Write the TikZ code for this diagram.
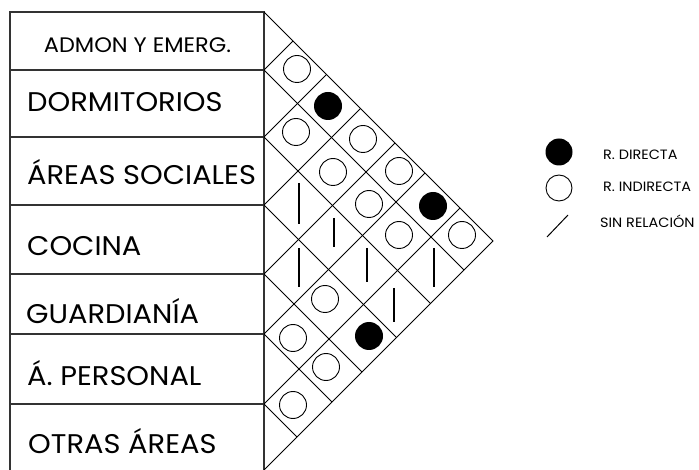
\documentclass[tikz,border=0pt]{standalone}
\usepackage{fontspec}
\setmainfont{Poppins}[FakeStretch=1.07]
\begin{document}
\begin{tikzpicture}[x=1pt,y=-1pt,
  tbl/.style={draw=black!80, line width=1.4pt},
  gridline/.style={draw=black, line width=0.9pt},
  opencirc/.style={circle, draw=black, line width=0.9pt, minimum size=27pt, inner sep=0pt},
  fullcirc/.style={circle, fill=black, minimum size=28pt, inner sep=0pt},
  norel/.style={draw=black, line width=1.2pt},
  lbl/.style={font=\fontsize{27}{30}\selectfont, anchor=base west, inner sep=0pt},
  leg/.style={font=\fontsize{13.5}{16}\selectfont, anchor=base west, inner sep=0pt}]
\useasboundingbox (0,0) rectangle (699,470);
\clip (0,0) rectangle (699,470);
% table
\draw[tbl] (10,12) rectangle (264,490);
\foreach \yy in {70,137,205,274,334,404} \draw[tbl] (10,\yy) -- (264,\yy);
% matrix outline
\coordinate (top) at (264,12);
\coordinate (tip) at (493,241);
\coordinate (bot) at (264,470);
\draw[gridline] (top) -- (tip) -- (bot);
\foreach \yy in {70,137,205,274,334,404} {
  \pgfmathsetmacro{\ax}{264+(470-\yy)/2}
  \pgfmathsetmacro{\ay}{(470+\yy)/2}
  \pgfmathsetmacro{\bx}{264+(\yy-12)/2}
  \pgfmathsetmacro{\by}{(\yy+12)/2}
  \draw[gridline] (\ax,\ay) -- (264,\yy) -- (\bx,\by);
}
% labels
\node[lbl, font=\fontsize{21}{24}\selectfont, anchor=base] (l1) at (137.5,53) {ADMON Y EMERG.};
\node[lbl] (l2) at (27,112) {DORMITORIOS};
\node[lbl] (l3) at (27,185) {ÁREAS SOCIALES};
\node[lbl] (l4) at (27,256) {COCINA};
\node[lbl] (l5) at (26,324) {GUARDIANÍA};
\node[lbl] (l6) at (27,385) {Á. PERSONAL};
\node[lbl] (l7) at (28,453) {OTRAS ÁREAS};
% symbols
\node[opencirc] (c12) at (297,69) {};
\node[fullcirc] (c13) at (328,106) {};
\node[opencirc] (c23) at (296,132) {};
\node[opencirc] (c14) at (363,139) {};
\node[opencirc] (c24) at (333,172) {};
\draw[norel] (299,183) -- (299,224);
\node[opencirc] (c15) at (399,171) {};
\node[opencirc] (c25) at (369,204) {};
\draw[norel] (334,218) -- (334,247);
\draw[norel] (299,248) -- (299,287);
\node[fullcirc] (c16) at (433,206) {};
\node[opencirc] (c26) at (399,235) {};
\draw[norel] (367,248) -- (367,282);
\node[opencirc] (c46) at (325,299) {};
\node[opencirc] (c56) at (293,338) {};
\node[opencirc] (c17) at (462,235) {};
\draw[norel] (434,248) -- (434,287);
\draw[norel] (394,288) -- (394,322);
\node[fullcirc] (c47) at (369,336) {};
\node[opencirc] (c57) at (326,367) {};
\node[opencirc] (c67) at (293,405) {};
% legend
\node[fullcirc, minimum size=27pt] (legD) at (559,152) {};
\node[opencirc, minimum size=26pt] (legI) at (559,188) {};
\coordinate (legA) at (547,237);
\coordinate (legB) at (568,215);
\draw[norel, line width=1pt] (legA) -- (legB);
\node[leg] (tD) at (603,160) {R. DIRECTA};
\node[leg] (tI) at (603,192) {R. INDIRECTA};
\node[leg] (tS) at (600,228) {SIN RELACIÓN};
\end{tikzpicture}
\end{document}
